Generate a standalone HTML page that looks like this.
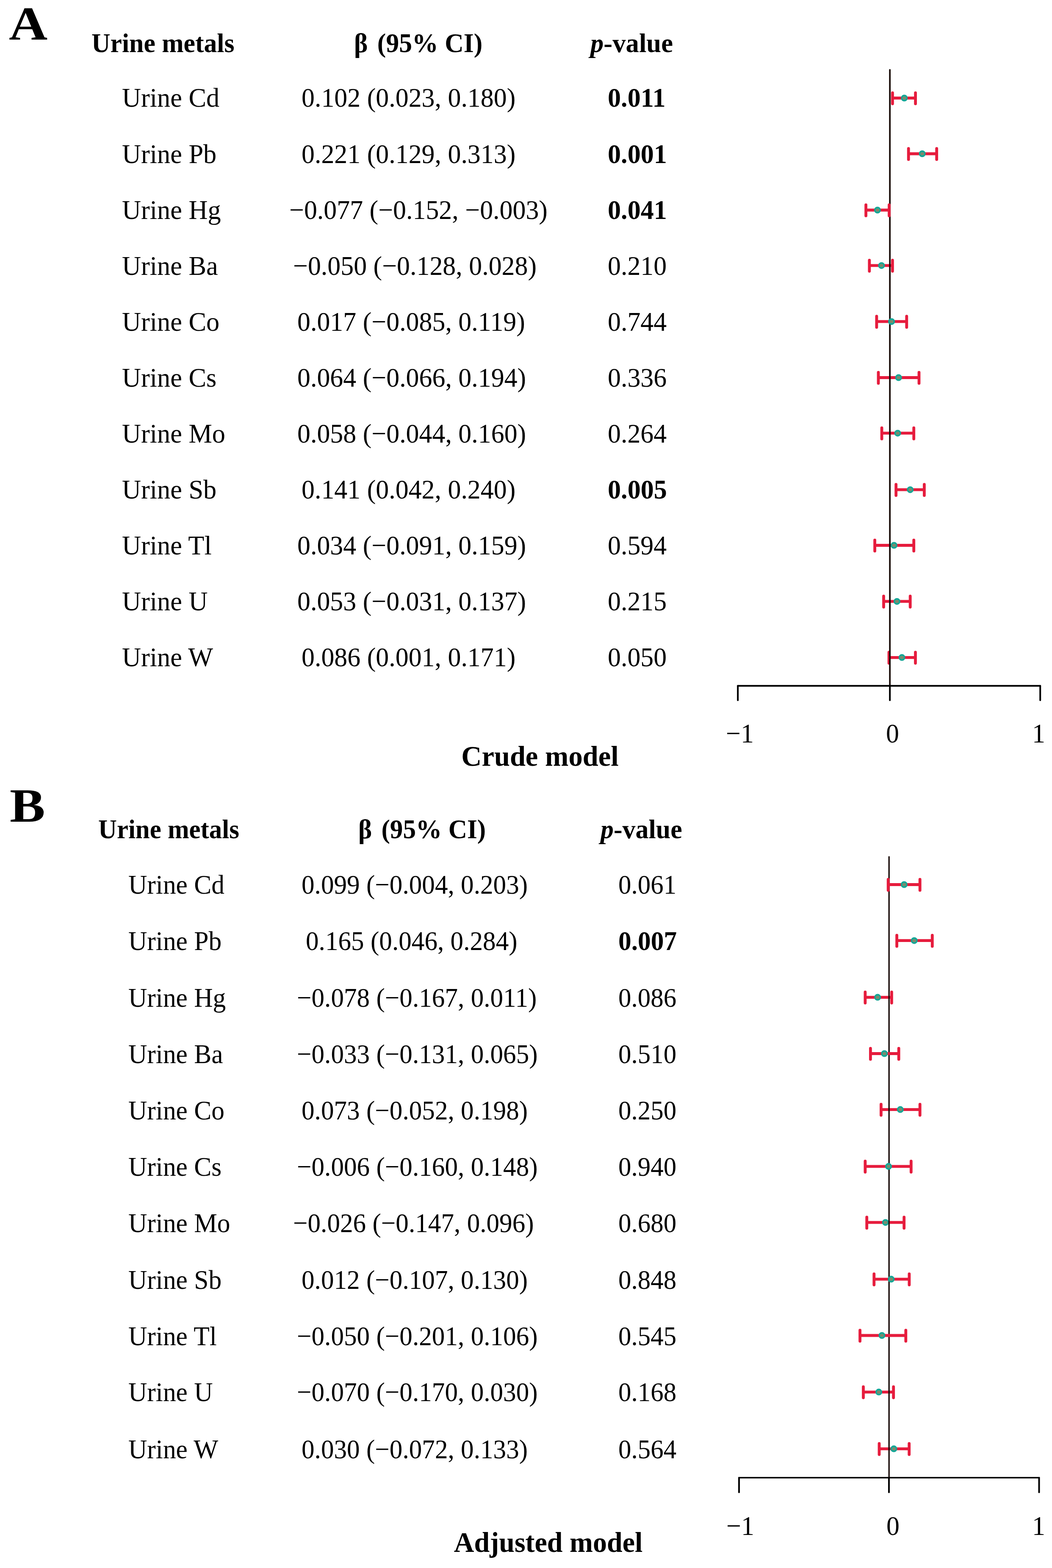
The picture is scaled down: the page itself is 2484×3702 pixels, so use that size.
<!DOCTYPE html>
<html lang="en">
<head>
<meta charset="utf-8">
<title>Urine metals forest plot: crude and adjusted models</title>
<style>
html,body{margin:0;padding:0;background:#fff;}
body{width:2484px;height:3702px;position:relative;overflow:hidden;font-family:"Liberation Serif",serif;color:#000;}
.t{position:absolute;font-size:62.5px;white-space:nowrap;line-height:1;margin:0;padding:0;font-weight:normal;transform-origin:0 83.75%;}
.b{font-weight:bold;}
.g{margin-right:7px;}
.hl{transform:scale(0.987,1.025);}
.hc{transform:scale(0.987,1.025);}
.hp{transform:scale(1.003,1.025);}
.lab{transform:scale(0.997,1.025);}
.ci{transform:scale(0.99,1.025);}
.pb{transform:scale(0.995,1.025);}
.pr{transform:scale(0.99,1.025);}
.ti{transform:scale(1.0,1.025);}
.ax{transform:scale(0.99,1.025);}
.hl2{transform:scale(0.9735,1.025);}
.hc2{transform:scale(0.98,1.025);}
.hp2{transform:scale(0.991,1.025);}
.lab2{transform:scale(0.983,1.025);}
.ci2{transform:scale(0.979,1.025);}
.pb2{transform:scale(0.982,1.025);}
.pr2{transform:scale(0.975,1.025);}
svg{position:absolute;left:0;top:0;}
</style>
</head>
<body>

<svg width="2484" height="3702" viewBox="0 0 2484 3702" aria-hidden="true">
<path d="M2107.45 231.50H2161.60M2107.45 219.05V244.95M2161.60 219.05V244.95" stroke="#e61c3d" stroke-width="6.8" stroke-linecap="round" fill="none"/>
<path d="M2145.20 363.00H2211.70M2145.20 350.55V376.45M2211.70 350.55V376.45" stroke="#e61c3d" stroke-width="6.8" stroke-linecap="round" fill="none"/>
<path d="M2052.80 626.90H2107.40M2052.80 614.45V640.35M2107.40 614.45V640.35" stroke="#e61c3d" stroke-width="6.8" stroke-linecap="round" fill="none"/>
<path d="M2069.90 759.20H2140.80M2069.90 746.75V772.65M2140.80 746.75V772.65" stroke="#e61c3d" stroke-width="6.8" stroke-linecap="round" fill="none"/>
<path d="M2074.00 891.50H2170.00M2074.00 879.05V904.95M2170.00 879.05V904.95" stroke="#e61c3d" stroke-width="6.8" stroke-linecap="round" fill="none"/>
<path d="M2082.10 1022.70H2157.70M2082.10 1010.25V1036.15M2157.70 1010.25V1036.15" stroke="#e61c3d" stroke-width="6.8" stroke-linecap="round" fill="none"/>
<path d="M2115.70 1156.20H2182.40M2115.70 1143.75V1169.65M2182.40 1143.75V1169.65" stroke="#e61c3d" stroke-width="6.8" stroke-linecap="round" fill="none"/>
<path d="M2065.60 1287.50H2157.70M2065.60 1275.05V1300.95M2157.70 1275.05V1300.95" stroke="#e61c3d" stroke-width="6.8" stroke-linecap="round" fill="none"/>
<path d="M2086.50 1419.90H2149.20M2086.50 1407.45V1433.35M2149.20 1407.45V1433.35" stroke="#e61c3d" stroke-width="6.8" stroke-linecap="round" fill="none"/>
<path d="M2099.00 1552.30H2161.50M2099.00 1539.85V1565.75M2161.50 1539.85V1565.75" stroke="#e61c3d" stroke-width="6.8" stroke-linecap="round" fill="none"/>
<line x1="2101.2" y1="165.0" x2="2101.2" y2="1619.2" stroke="#190c09" stroke-width="3.8" stroke-linecap="round"/>
<path d="M1742.2 1619.2H2456.2" stroke="#000" stroke-width="3.9" stroke-linecap="round" fill="none"/>
<path d="M1742.2 1619.2V1653.3M2456.2 1619.2V1653.3M2101.2 1619.2V1653.3" stroke="#000" stroke-width="4.0" stroke-linecap="round" fill="none"/>
<path d="M2044.60 496.00H2099.50M2044.60 483.55V509.45M2099.50 483.55V509.45" stroke="#e61c3d" stroke-width="6.8" stroke-linecap="round" fill="none"/>
<circle cx="2135.25" cy="231.50" r="6.20" fill="#1db3a1" stroke="#13a696" stroke-width="3.6"/><rect x="2131.10" y="228.20" width="8.3" height="6.6" rx="1.5" fill="#7c8a6d"/>
<circle cx="2177.60" cy="363.00" r="6.20" fill="#1db3a1" stroke="#13a696" stroke-width="3.6"/><rect x="2173.45" y="359.70" width="8.3" height="6.6" rx="1.5" fill="#7c8a6d"/>
<circle cx="2071.90" cy="496.00" r="6.20" fill="#1db3a1" stroke="#13a696" stroke-width="3.6"/><rect x="2067.75" y="492.70" width="8.3" height="6.6" rx="1.5" fill="#7c8a6d"/>
<circle cx="2081.40" cy="626.90" r="6.20" fill="#1db3a1" stroke="#13a696" stroke-width="3.6"/><rect x="2077.25" y="623.60" width="8.3" height="6.6" rx="1.5" fill="#7c8a6d"/>
<circle cx="2105.10" cy="759.20" r="6.20" fill="#1db3a1" stroke="#13a696" stroke-width="3.6"/><rect x="2100.95" y="755.90" width="8.3" height="6.6" rx="1.5" fill="#7c8a6d"/>
<circle cx="2121.70" cy="891.50" r="6.20" fill="#1db3a1" stroke="#13a696" stroke-width="3.6"/><rect x="2117.55" y="888.20" width="8.3" height="6.6" rx="1.5" fill="#7c8a6d"/>
<circle cx="2119.60" cy="1022.70" r="6.20" fill="#1db3a1" stroke="#13a696" stroke-width="3.6"/><rect x="2115.45" y="1019.40" width="8.3" height="6.6" rx="1.5" fill="#7c8a6d"/>
<circle cx="2149.20" cy="1156.20" r="6.20" fill="#1db3a1" stroke="#13a696" stroke-width="3.6"/><rect x="2145.05" y="1152.90" width="8.3" height="6.6" rx="1.5" fill="#7c8a6d"/>
<circle cx="2111.00" cy="1287.50" r="6.20" fill="#1db3a1" stroke="#13a696" stroke-width="3.6"/><rect x="2106.85" y="1284.20" width="8.3" height="6.6" rx="1.5" fill="#7c8a6d"/>
<circle cx="2117.90" cy="1419.90" r="6.20" fill="#1db3a1" stroke="#13a696" stroke-width="3.6"/><rect x="2113.75" y="1416.60" width="8.3" height="6.6" rx="1.5" fill="#7c8a6d"/>
<circle cx="2129.60" cy="1552.30" r="6.20" fill="#1db3a1" stroke="#13a696" stroke-width="3.6"/><rect x="2125.45" y="1549.00" width="8.3" height="6.6" rx="1.5" fill="#7c8a6d"/>
<path d="M2117.60 2220.70H2201.30M2117.60 2208.25V2234.15M2201.30 2208.25V2234.15" stroke="#e61c3d" stroke-width="6.8" stroke-linecap="round" fill="none"/>
<path d="M2042.90 2354.60H2105.40M2042.90 2342.15V2368.05M2105.40 2342.15V2368.05" stroke="#e61c3d" stroke-width="6.8" stroke-linecap="round" fill="none"/>
<path d="M2080.40 2619.60H2172.20M2080.40 2607.15V2633.05M2172.20 2607.15V2633.05" stroke="#e61c3d" stroke-width="6.8" stroke-linecap="round" fill="none"/>
<path d="M2042.90 2753.80H2151.30M2042.90 2741.35V2767.25M2151.30 2741.35V2767.25" stroke="#e61c3d" stroke-width="6.8" stroke-linecap="round" fill="none"/>
<path d="M2046.70 2886.20H2134.70M2046.70 2873.75V2899.65M2134.70 2873.75V2899.65" stroke="#e61c3d" stroke-width="6.8" stroke-linecap="round" fill="none"/>
<path d="M2063.80 3020.10H2146.90M2063.80 3007.65V3033.55M2146.90 3007.65V3033.55" stroke="#e61c3d" stroke-width="6.8" stroke-linecap="round" fill="none"/>
<path d="M2038.50 3286.60H2109.70M2038.50 3274.15V3300.05M2109.70 3274.15V3300.05" stroke="#e61c3d" stroke-width="6.8" stroke-linecap="round" fill="none"/>
<path d="M2076.00 3420.60H2146.70M2076.00 3408.15V3434.05M2146.70 3408.15V3434.05" stroke="#e61c3d" stroke-width="6.8" stroke-linecap="round" fill="none"/>
<circle cx="2090.80" cy="2886.20" r="6.20" fill="#1db3a1" stroke="#13a696" stroke-width="3.6"/><rect x="2086.65" y="2882.90" width="8.3" height="6.6" rx="1.5" fill="#7c8a6d"/>
<line x1="2099.2" y1="2023.0" x2="2099.2" y2="3488.8" stroke="#190c09" stroke-width="3.4" stroke-linecap="round"/>
<path d="M1745.0 3488.8H2453.5" stroke="#000" stroke-width="3.5" stroke-linecap="round" fill="none"/>
<path d="M1745.0 3488.8V3523.3M2453.5 3488.8V3523.3M2099.0 3488.8V3523.3" stroke="#000" stroke-width="4.0" stroke-linecap="round" fill="none"/>
<path d="M2097.20 2088.50H2172.20M2097.20 2076.05V2101.95M2172.20 2076.05V2101.95" stroke="#e61c3d" stroke-width="6.8" stroke-linecap="round" fill="none"/>
<path d="M2055.40 2487.50H2122.20M2055.40 2475.05V2500.95M2122.20 2475.05V2500.95" stroke="#e61c3d" stroke-width="6.8" stroke-linecap="round" fill="none"/>
<path d="M2030.60 3153.00H2138.80M2030.60 3140.55V3166.45M2138.80 3140.55V3166.45" stroke="#e61c3d" stroke-width="6.8" stroke-linecap="round" fill="none"/>
<circle cx="2134.90" cy="2088.50" r="6.20" fill="#1db3a1" stroke="#13a696" stroke-width="3.6"/><rect x="2130.75" y="2085.20" width="8.3" height="6.6" rx="1.5" fill="#7c8a6d"/>
<circle cx="2158.70" cy="2220.70" r="6.20" fill="#1db3a1" stroke="#13a696" stroke-width="3.6"/><rect x="2154.55" y="2217.40" width="8.3" height="6.6" rx="1.5" fill="#7c8a6d"/>
<circle cx="2072.20" cy="2354.60" r="6.20" fill="#1db3a1" stroke="#13a696" stroke-width="3.6"/><rect x="2068.05" y="2351.30" width="8.3" height="6.6" rx="1.5" fill="#7c8a6d"/>
<circle cx="2088.30" cy="2487.50" r="6.20" fill="#1db3a1" stroke="#13a696" stroke-width="3.6"/><rect x="2084.15" y="2484.20" width="8.3" height="6.6" rx="1.5" fill="#7c8a6d"/>
<circle cx="2125.80" cy="2619.60" r="6.20" fill="#1db3a1" stroke="#13a696" stroke-width="3.6"/><rect x="2121.65" y="2616.30" width="8.3" height="6.6" rx="1.5" fill="#7c8a6d"/>
<circle cx="2098.00" cy="2753.80" r="6.20" fill="#1db3a1" stroke="#13a696" stroke-width="3.6"/><rect x="2093.85" y="2750.50" width="8.3" height="6.6" rx="1.5" fill="#7c8a6d"/>
<circle cx="2104.30" cy="3020.10" r="6.20" fill="#1db3a1" stroke="#13a696" stroke-width="3.6"/><rect x="2100.15" y="3016.80" width="8.3" height="6.6" rx="1.5" fill="#7c8a6d"/>
<circle cx="2082.40" cy="3153.00" r="6.20" fill="#1db3a1" stroke="#13a696" stroke-width="3.6"/><rect x="2078.25" y="3149.70" width="8.3" height="6.6" rx="1.5" fill="#7c8a6d"/>
<circle cx="2075.00" cy="3286.60" r="6.20" fill="#1db3a1" stroke="#13a696" stroke-width="3.6"/><rect x="2070.85" y="3283.30" width="8.3" height="6.6" rx="1.5" fill="#7c8a6d"/>
<circle cx="2110.50" cy="3420.60" r="6.20" fill="#1db3a1" stroke="#13a696" stroke-width="3.6"/><rect x="2106.35" y="3417.30" width="8.3" height="6.6" rx="1.5" fill="#7c8a6d"/>
</svg>
<div class="t b" style="left:20.64px;top:1.22px;font-size:111.50px;transform:scaleX(1.1330)">A</div>
<div class="t b" style="left:22.89px;top:1846.79px;font-size:111.30px;transform:scaleX(1.1260)">B</div>
<div class="t hl b" style="left:216.07px;top:71.16px;">Urine metals</div>
<div class="t hc b" style="left:836.00px;top:71.16px;"><span class="g">β</span> (95% CI)</div>
<div class="t hp b" style="left:1393.89px;top:71.16px;"><i>p</i>-value</div>
<div class="t lab" style="left:287.95px;top:200.46px;">Urine Cd</div>
<div class="t ci" style="left:712.23px;top:200.46px;">0.102 (0.023, 0.180)</div>
<div class="t pb b" style="left:1435.11px;top:200.46px;">0.011</div>
<div class="t lab" style="left:287.95px;top:332.56px;">Urine Pb</div>
<div class="t ci" style="left:712.23px;top:332.56px;">0.221 (0.129, 0.313)</div>
<div class="t pb b" style="left:1435.11px;top:332.56px;">0.001</div>
<div class="t lab" style="left:287.95px;top:464.66px;">Urine Hg</div>
<div class="t ci" style="left:682.61px;top:464.66px;">−0.077 (−0.152, −0.003)</div>
<div class="t pb b" style="left:1435.11px;top:464.66px;">0.041</div>
<div class="t lab" style="left:287.95px;top:596.76px;">Urine Ba</div>
<div class="t ci" style="left:691.51px;top:596.76px;">−0.050 (−0.128, 0.028)</div>
<div class="t pr" style="left:1435.12px;top:596.76px;">0.210</div>
<div class="t lab" style="left:287.95px;top:728.86px;">Urine Co</div>
<div class="t ci" style="left:702.02px;top:728.86px;">0.017 (−0.085, 0.119)</div>
<div class="t pr" style="left:1435.12px;top:728.86px;">0.744</div>
<div class="t lab" style="left:287.95px;top:860.96px;">Urine Cs</div>
<div class="t ci" style="left:702.02px;top:860.96px;">0.064 (−0.066, 0.194)</div>
<div class="t pr" style="left:1435.12px;top:860.96px;">0.336</div>
<div class="t lab" style="left:287.95px;top:993.06px;">Urine Mo</div>
<div class="t ci" style="left:702.02px;top:993.06px;">0.058 (−0.044, 0.160)</div>
<div class="t pr" style="left:1435.12px;top:993.06px;">0.264</div>
<div class="t lab" style="left:287.95px;top:1125.16px;">Urine Sb</div>
<div class="t ci" style="left:712.23px;top:1125.16px;">0.141 (0.042, 0.240)</div>
<div class="t pb b" style="left:1435.11px;top:1125.16px;">0.005</div>
<div class="t lab" style="left:287.95px;top:1257.26px;">Urine Tl</div>
<div class="t ci" style="left:702.02px;top:1257.26px;">0.034 (−0.091, 0.159)</div>
<div class="t pr" style="left:1435.12px;top:1257.26px;">0.594</div>
<div class="t lab" style="left:287.95px;top:1389.36px;">Urine U</div>
<div class="t ci" style="left:702.02px;top:1389.36px;">0.053 (−0.031, 0.137)</div>
<div class="t pr" style="left:1435.12px;top:1389.36px;">0.215</div>
<div class="t lab" style="left:287.95px;top:1521.46px;">Urine W</div>
<div class="t ci" style="left:712.23px;top:1521.46px;">0.086 (0.001, 0.171)</div>
<div class="t pr" style="left:1435.12px;top:1521.46px;">0.050</div>
<div class="t ti b" style="left:1089.37px;top:1752.91px;font-size:66.50px;">Crude model</div>
<div class="t ax" style="left:1713.91px;top:1700.96px;">−1</div>
<div class="t ax" style="left:2092.12px;top:1700.96px;">0</div>
<div class="t ax" style="left:2436.63px;top:1700.96px;">1</div>
<div class="t hl2 b" style="left:232.08px;top:1927.46px;">Urine metals</div>
<div class="t hc2 b" style="left:845.93px;top:1927.46px;"><span class="g">β</span> (95% CI)</div>
<div class="t hp2 b" style="left:1418.44px;top:1927.46px;"><i>p</i>-value</div>
<div class="t lab2" style="left:303.47px;top:2058.06px;">Urine Cd</div>
<div class="t ci2" style="left:712.15px;top:2058.06px;">0.099 (−0.004, 0.203)</div>
<div class="t pr2" style="left:1459.56px;top:2058.06px;">0.061</div>
<div class="t lab2" style="left:303.47px;top:2191.46px;">Urine Pb</div>
<div class="t ci2" style="left:721.65px;top:2191.46px;">0.165 (0.046, 0.284)</div>
<div class="t pb2 b" style="left:1459.55px;top:2191.46px;">0.007</div>
<div class="t lab2" style="left:303.47px;top:2324.66px;">Urine Hg</div>
<div class="t ci2" style="left:701.34px;top:2324.66px;">−0.078 (−0.167, 0.011)</div>
<div class="t pr2" style="left:1459.56px;top:2324.66px;">0.086</div>
<div class="t lab2" style="left:303.47px;top:2457.96px;">Urine Ba</div>
<div class="t ci2" style="left:701.34px;top:2457.96px;">−0.033 (−0.131, 0.065)</div>
<div class="t pr2" style="left:1459.56px;top:2457.96px;">0.510</div>
<div class="t lab2" style="left:303.47px;top:2590.96px;">Urine Co</div>
<div class="t ci2" style="left:712.15px;top:2590.96px;">0.073 (−0.052, 0.198)</div>
<div class="t pr2" style="left:1459.56px;top:2590.96px;">0.250</div>
<div class="t lab2" style="left:303.47px;top:2724.16px;">Urine Cs</div>
<div class="t ci2" style="left:701.34px;top:2724.16px;">−0.006 (−0.160, 0.148)</div>
<div class="t pr2" style="left:1459.56px;top:2724.16px;">0.940</div>
<div class="t lab2" style="left:303.47px;top:2857.36px;">Urine Mo</div>
<div class="t ci2" style="left:691.84px;top:2857.36px;">−0.026 (−0.147, 0.096)</div>
<div class="t pr2" style="left:1459.56px;top:2857.36px;">0.680</div>
<div class="t lab2" style="left:303.47px;top:2990.56px;">Urine Sb</div>
<div class="t ci2" style="left:712.15px;top:2990.56px;">0.012 (−0.107, 0.130)</div>
<div class="t pr2" style="left:1459.56px;top:2990.56px;">0.848</div>
<div class="t lab2" style="left:303.47px;top:3123.56px;">Urine Tl</div>
<div class="t ci2" style="left:701.34px;top:3123.56px;">−0.050 (−0.201, 0.106)</div>
<div class="t pr2" style="left:1459.56px;top:3123.56px;">0.545</div>
<div class="t lab2" style="left:303.47px;top:3256.36px;">Urine U</div>
<div class="t ci2" style="left:701.34px;top:3256.36px;">−0.070 (−0.170, 0.030)</div>
<div class="t pr2" style="left:1459.56px;top:3256.36px;">0.168</div>
<div class="t lab2" style="left:303.47px;top:3390.76px;">Urine W</div>
<div class="t ci2" style="left:712.15px;top:3390.76px;">0.030 (−0.072, 0.133)</div>
<div class="t pr2" style="left:1459.56px;top:3390.76px;">0.564</div>
<div class="t ti b" style="left:1071.84px;top:3608.72px;font-size:66.00px;">Adjusted model</div>
<div class="t ax" style="left:1714.91px;top:3571.66px;">−1</div>
<div class="t ax" style="left:2092.53px;top:3571.66px;">0</div>
<div class="t ax" style="left:2436.93px;top:3571.66px;">1</div>
</body>
</html>
